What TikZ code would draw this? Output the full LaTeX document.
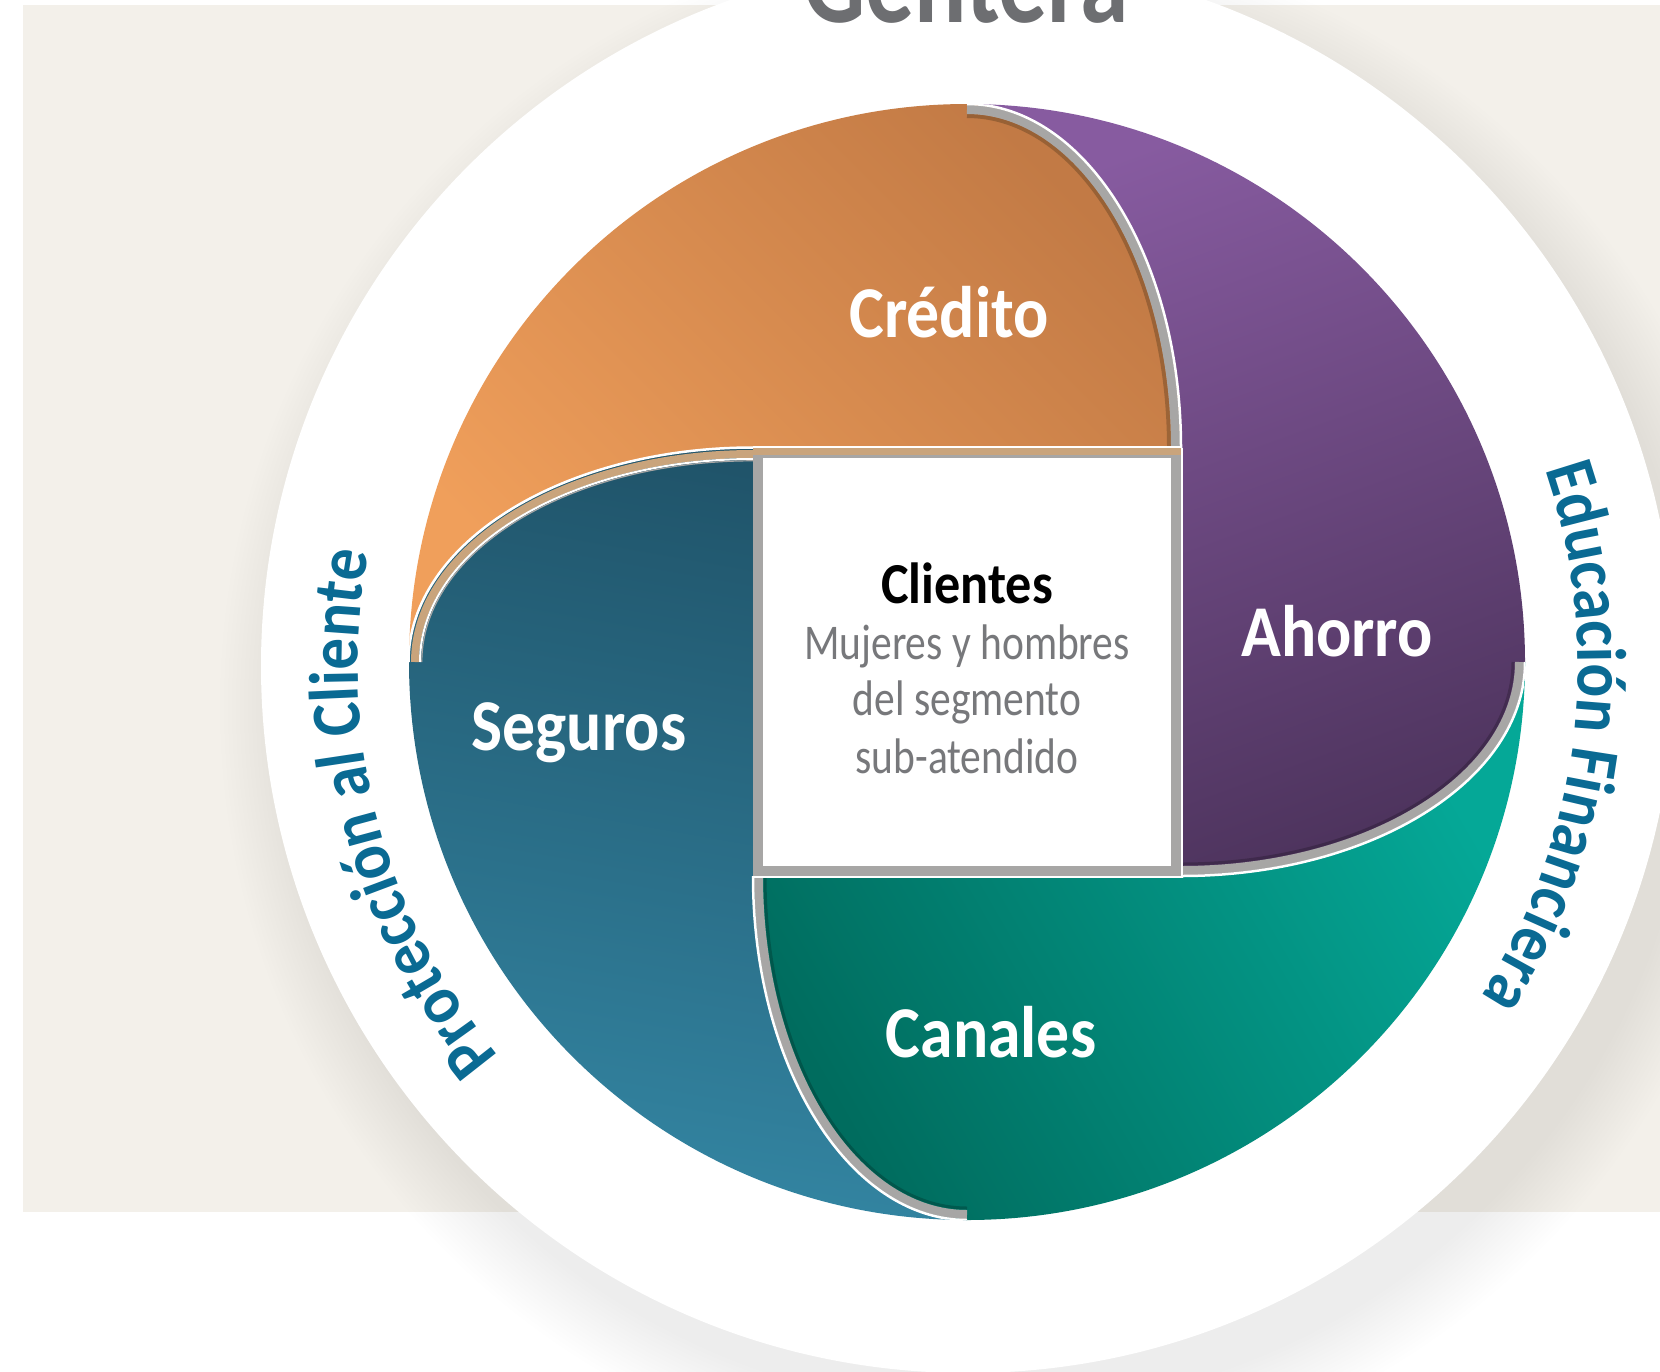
\documentclass[tikz,border=0pt]{standalone}
\usepackage{fontspec}
\setmainfont{Carlito}
\newfontfamily\labfont[FakeStretch=0.9]{Carlito}
\newfontfamily\subfont[FakeStretch=0.83]{Carlito}
\newfontfamily\gentfont[FakeStretch=0.8]{Carlito}
\usetikzlibrary{decorations.text}
\definecolor{beige}{HTML}{F3F0EA}
\definecolor{gentgray}{HTML}{6D6E71}
\definecolor{subgray}{HTML}{77787B}
\definecolor{ringblue}{HTML}{0A6A93}
\definecolor{credL}{HTML}{F09F5B}
\definecolor{credR}{HTML}{C27A45}
\definecolor{ahoT}{HTML}{875BA0}
\definecolor{ahoB}{HTML}{4E345E}
\definecolor{canL}{HTML}{05A897}
\definecolor{canD}{HTML}{006C5E}
\definecolor{segT}{HTML}{20546A}
\definecolor{segB}{HTML}{3385A2}
\definecolor{bandgray}{HTML}{A7A6A5}
\definecolor{tanband}{HTML}{C9A47C}
\newcommand{\ebow}[7]{\draw[#1] ([shift={(#6:#4 and #5)}]#2,#3) arc[start angle=#6,end angle=#7,x radius=#4,y radius=#5];}
\tikzset{
  petallabel/.style={font=\labfont\bfseries\fontsize{73}{80}\selectfont, text=white, anchor=base, inner sep=0pt},
  subline/.style={font=\subfont\fontsize{50}{56}\selectfont, text=subgray, anchor=base, inner sep=0pt},
  grayband/.style={draw=bandgray, line width=9pt},
  whiteline/.style={draw=white, line width=2.5pt},
}
\begin{document}
\begin{tikzpicture}[x=1pt,y=-1pt]
\useasboundingbox (0,0) rectangle (1660,1371);
\fill[white] (0,0) rectangle (1660,1371);
\fill[beige] (23,5) rectangle (1660,1212);
% soft shadow of the white circle
\foreach \i in {1,...,18}{
  \fill[black, opacity=0.0045] (992,706) circle[radius={700+4*\i}];
}
\fill[white] (968,666) circle[radius=707];
\node[font=\gentfont\bfseries\fontsize{122}{130}\selectfont, text=gentgray, anchor=base, inner sep=0pt] (gentera) at (966,22) {Gentera};
\coordinate (C) at (967,662);
% petals
\shade[top color=credR, bottom color=credL, shading angle=-45]
  (409,662) arc[start angle=180,end angle=270,radius=558]
  arc[start angle=270,end angle=360,x radius=214,y radius=344]
  -- (753,448) arc[start angle=270,end angle=180,x radius=344,y radius=214] -- cycle;
\shade[top color=ahoT, bottom color=ahoB, shading angle=20]
  (967,104) arc[start angle=270,end angle=360,radius=558]
  arc[start angle=0,end angle=90,x radius=344,y radius=214]
  -- (1181,448) arc[start angle=0,end angle=-90,x radius=214,y radius=344] -- cycle;
\shade[top color=canL, bottom color=canD, shading angle=-60]
  (1525,662) arc[start angle=0,end angle=90,radius=558]
  arc[start angle=90,end angle=180,x radius=214,y radius=344]
  -- (1181,876) arc[start angle=90,end angle=0,x radius=344,y radius=214] -- cycle;
\shade[top color=segT, bottom color=segB, shading angle=-10]
  (967,1220) arc[start angle=90,end angle=180,radius=558]
  arc[start angle=180,end angle=270,x radius=344,y radius=214]
  -- (753,876) arc[start angle=180,end angle=90,x radius=214,y radius=344] -- cycle;
% separators
\begin{scope}
\clip (967,662) circle[radius=558];
% Credito / Ahorro
\ebow{draw=black!60!brown, line width=4pt, opacity=0.35}{967}{448}{202}{332}{270}{360}
\ebow{grayband}{967}{448}{208.5}{338.5}{270}{360}
\ebow{whiteline}{967}{448}{214}{344}{270}{360}
% Ahorro / Canales
\ebow{draw=black, line width=3pt, opacity=0.2}{1181}{662}{332}{202}{0}{90}
\ebow{grayband}{1181}{662}{338.5}{208.5}{0}{90}
\ebow{whiteline}{1181}{662}{344}{214}{0}{90}
% Canales / Seguros
\ebow{draw=black, line width=3pt, opacity=0.2}{967}{876}{202}{332}{90}{180}
\ebow{grayband}{967}{876}{208.5}{338.5}{90}{180}
\ebow{whiteline}{967}{876}{214}{344}{90}{180}
% Seguros / Credito
\ebow{draw=tanband, line width=8pt}{753}{662}{338}{208}{180}{270}
\ebow{whiteline}{753}{662}{344.5}{214.5}{180}{270}
\ebow{draw=white, line width=2pt}{753}{662}{333}{203}{180}{270}
\ebow{draw=bandgray, line width=1.2pt}{753}{662}{331.2}{201.2}{180}{270}
\end{scope}
% central square
\fill[white] (753,448) rectangle (1181,876);
\draw[bandgray, line width=10pt] (758,453) rectangle (1176,871);
\fill[tanband] (753,448) rectangle (1181,455);
\draw[white, line width=2.5pt] (753,447) -- (1181,447);
\draw[white, line width=2pt] (1182,448) -- (1182,877) -- (753,877);
% labels
\node[petallabel] (credito) at (949,337) {Crédito};
\node[petallabel] (ahorro) at (1337,656) {Ahorro};
\node[petallabel] (seguros) at (579,750) {Seguros};
\node[petallabel] (canales) at (991,1057) {Canales};
\node[font=\labfont\bfseries\fontsize{58}{64}\selectfont, text=black, anchor=base, inner sep=0pt] (clientes) at (967,603) {Clientes};
\node[subline] (sub1) at (967,659) {Mujeres y hombres};
\node[subline] (sub2) at (967,715) {del segmento};
\node[subline] (sub3) at (967,773) {sub-atendido};
% ring texts
\path[decorate, decoration={text along path, text align=center,
  text={|\labfont\bfseries\fontsize{70}{70}\selectfont\color{ringblue}|Protección al Cliente}}]
  ([shift={(120:610)}]968,666) arc[start angle=120,end angle=211,radius=610];
\path[decorate, decoration={text along path, text align=center,
  text={|\labfont\bfseries\fontsize{70}{70}\selectfont\color{ringblue}|Educación Financiera}}]
  ([shift={(-38:610)}]968,666) arc[start angle=-38,end angle=52,radius=610];
\end{tikzpicture}
\end{document}
